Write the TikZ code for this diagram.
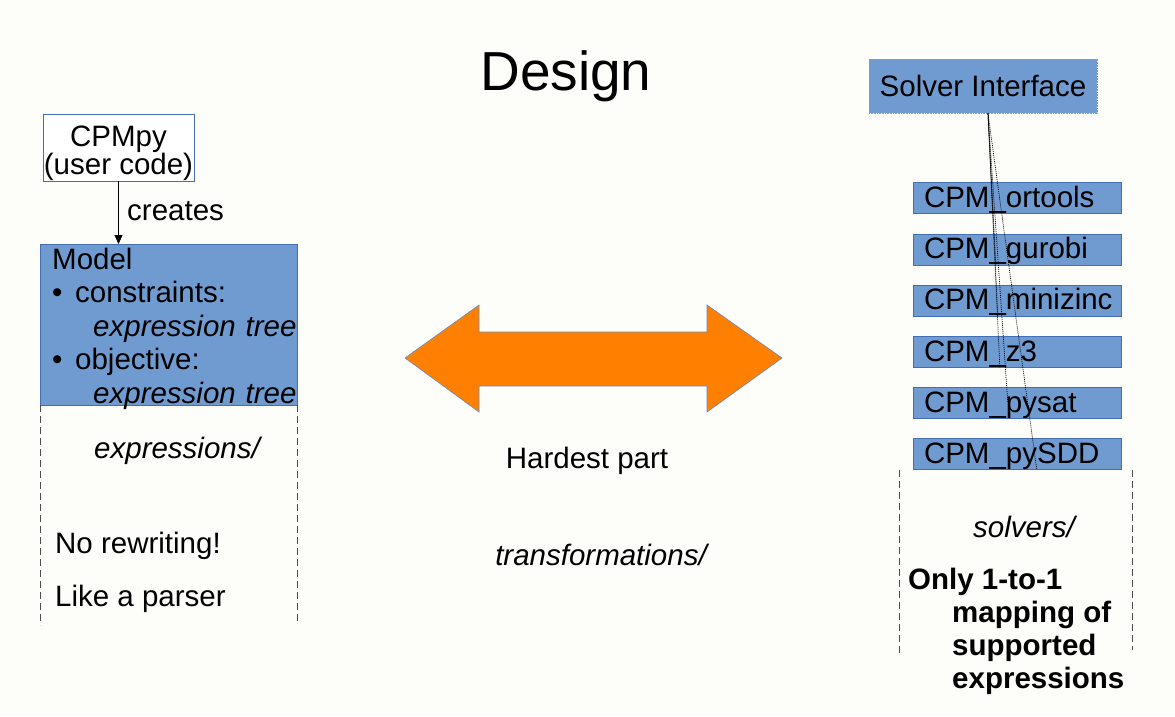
\documentclass[tikz,border=0pt]{standalone}
\usepackage{fontspec}
\setmainfont{Liberation Sans}
\usetikzlibrary{arrows.meta,positioning}

\definecolor{paper}{RGB}{253,253,250}
\definecolor{slideblue}{RGB}{112,155,208}
\definecolor{edgeblue}{RGB}{65,110,180}
\definecolor{arroworange}{RGB}{255,128,0}
\newcommand{\bodyfont}{\fontsize{29.5}{33.5}\selectfont}

\tikzset{
  box/.style={draw=edgeblue, fill=slideblue, inner sep=0pt},
  solverbox/.style={box, minimum height=31pt, text width=186pt, inner xsep=11pt, align=left,
    text height=23pt, text depth=4pt},
  link/.style={dash pattern=on 1pt off 1pt, line width=0.7pt},
  guide/.style={dash pattern=on 7pt off 4pt, line width=0.9pt, black!70}
}

\begin{document}
\begin{tikzpicture}[x=1pt, y=-1pt, font=\bodyfont, inner sep=0pt]
\fill [paper] (0,0) rectangle (1175,716);
\useasboundingbox (0,0) rectangle (1175,716);

\node [anchor=base] (title) at (566,90) {\fontsize{55}{60}\selectfont Design};

\node [draw=edgeblue, fill=white, minimum width=151pt, minimum height=64pt, align=center,
  font=\fontsize{29.5}{26}\selectfont] (cpmpy) at (118.5,147.6) {\rule{0pt}{32pt}CPMpy\\(user code)};
\node [box, anchor=north west, minimum width=257pt, minimum height=161pt, text width=257pt, align=left] (model) at (40,244)
  {\hspace*{12pt}\rule{0pt}{23pt}Model\\
   \hspace*{12pt}\makebox[23pt][l]{\textbullet}constraints:\\
   \hspace*{53pt}\textit{expression tree}\\
   \hspace*{12pt}\makebox[23pt][l]{\textbullet}objective:\\
   \hspace*{53pt}\raisebox{0pt}[\height][0pt]{\textit{expression tree}}};
\draw [-{Triangle[width=8pt,length=9pt]}, thin] (cpmpy.south) -- (cpmpy.south |- model.north);
\node [anchor=base west] (creates) at (127,220) {creates};
\draw [guide] (model.south west) -- ++(0,220);
\draw [guide] (model.south east) -- ++(0,218);
\node [anchor=base] (exprdir) at (177,458) {\itshape expressions/};
\node [anchor=base west] (norewrite) at (55,553) {No rewriting!};
\node [anchor=base west] (parser) at (55,606) {Like a parser};

\filldraw [fill=arroworange, draw=edgeblue!80, line width=0.6pt]
  (405,358) -- (479,305) -- (479,332) -- (707,332) -- (707,305) -- (782,358)
  -- (707,412) -- (707,386) -- (479,386) -- (479,412) -- cycle;
\node [anchor=base] (hardest) at (587,468) {Hardest part};
\node [anchor=base] (transdir) at (601,565) {\itshape transformations/};

\node [box, draw=gray!80, dash pattern=on 1pt off 0.6pt, line width=1pt, minimum width=228pt, minimum height=54pt] (iface) at (983,86) {Solver Interface};
\node [solverbox] (ortools) at (1017,198) {CPM\_ortools};
\node [solverbox, node distance=51.2pt, below of=ortools] (gurobi) {CPM\_gurobi};
\node [solverbox, node distance=51.2pt, below of=gurobi] (minizinc) {CPM\_minizinc};
\node [solverbox, node distance=51.2pt, below of=minizinc] (zthree) {CPM\_z3};
\node [solverbox, node distance=51.2pt, below of=zthree] (pysat) {CPM\_pysat};
\node [solverbox, node distance=51.2pt, below of=pysat] (pysdd) {CPM\_pySDD};
\coordinate (hub) at ([xshift=5pt]iface.south);
\draw [link] (hub) -- ([xshift=80pt]ortools.south west);
\draw [link] (hub) -- ([xshift=83pt]gurobi.south west);
\draw [link] (hub) -- ([xshift=85pt]minizinc.south west);
\draw [link] (hub) -- ([xshift=87pt]zthree.south west);
\draw [link] (hub) -- ([xshift=95pt]pysat.west);
\draw [link] (hub) -- ([xshift=124pt]pysdd.south west);
\draw [guide] ([xshift=-13pt]pysdd.south west) -- ++(0,185);
\draw [guide] ([xshift=11pt]pysdd.south east) -- ++(0,180);
\node [anchor=base] (solvdir) at (1024,537) {\itshape solvers/};
\node [anchor=north west, align=left, font=\fontsize{29.5}{33}\selectfont\bfseries] (mapping) at (908,568)
  {Only 1-to-1\\
   \hspace*{44pt}mapping of\\
   \hspace*{44pt}supported\\
   \hspace*{44pt}expressions};
\end{tikzpicture}
\end{document}
